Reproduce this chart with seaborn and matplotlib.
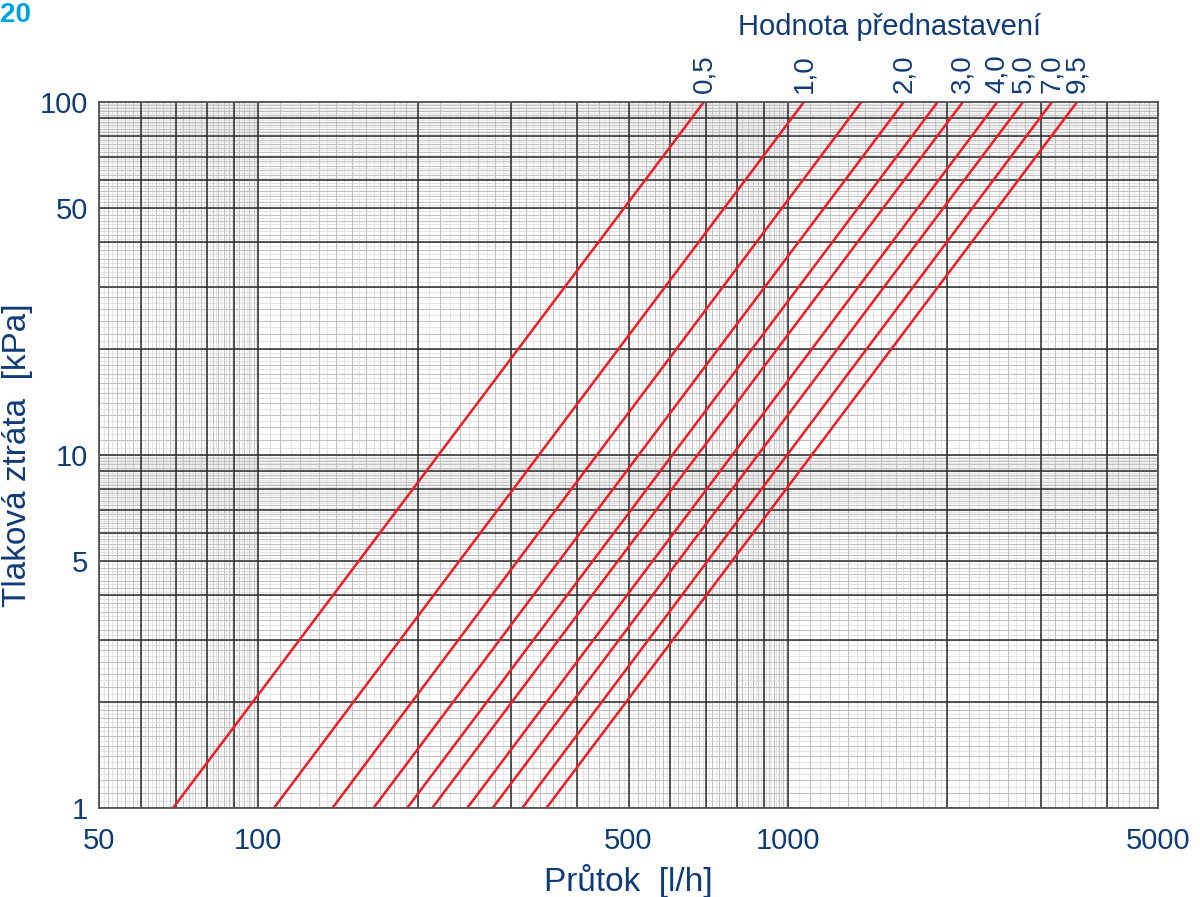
import numpy as np
import pandas as pd
import matplotlib
matplotlib.use("Agg")
import matplotlib.pyplot as plt
import matplotlib.transforms as mtransforms
from matplotlib.ticker import NullLocator
import seaborn as sns

# ---- data ----
settings = ["0,5", "1,0", "", "2,0", "", "3,0", "4,0", "5,0", "7,0", "9,5"]
flow_at_1kpa = [69, 107, 138, 165, 191, 213, 248, 277, 315, 350]          # l/h at 1 kPa
flow_at_100kpa = [694, 1072, 1377, 1655, 1918, 2140, 2486, 2780, 3153, 3516]  # l/h at 100 kPa
dp_ends = [1, 100]
x_ticks = [50, 100, 500, 1000, 5000]
x_ticklabels = ["50", "100", "500", "1000", "5000"]
y_ticks = [1, 5, 10, 50, 100]
y_ticklabels = ["1", "5", "10", "50", "100"]

NAVY = "#0f3c78"
RED = "#ee1c25"

sns.set_theme(style="white")
plt.rcParams["font.family"] = ["Liberation Sans", "DejaVu Sans"]

rows = []
for i, (q1, q2) in enumerate(zip(flow_at_1kpa, flow_at_100kpa)):
    rows.append({"line": i, "flow": q1, "dp": dp_ends[0]})
    rows.append({"line": i, "flow": q2, "dp": dp_ends[1]})
df = pd.DataFrame(rows)

fig = plt.figure(figsize=(12, 8.97), dpi=100)
ax = fig.add_axes([99 / 1200, 1 - 808 / 897, (1158 - 99) / 1200, (808 - 102) / 897])
ax.set_xscale("log")
ax.set_yscale("log")
ax.set_xlim(50, 5000)
ax.set_ylim(1, 100)


def grid_vals(lo, hi, spec):
    vals = []
    d = 1.0
    while d <= hi:
        for a, b, step in spec:
            for m in np.arange(a, b + 1e-9, step):
                v = m * d
                if lo <= v <= hi:
                    vals.append(v)
        d *= 10
    return sorted(set(np.round(vals, 6)))

light_spec = [(1, 2, 0.05), (2, 5, 0.1), (5, 10, 0.1)]
med_spec = [(1, 2, 0.1), (2, 10, 0.2)]
dark_spec = [(1, 9, 1)]

for spec, col, lw in [(light_spec, "#e4e4e4", 0.75), (med_spec, "#c2c2c6", 0.75), (dark_spec, "#2b2b2b", 1.1)]:
    for v in grid_vals(50, 5000, spec):
        ax.axvline(v, color=col, lw=lw, zorder=1)
    for v in grid_vals(1, 100, spec):
        ax.axhline(v, color=col, lw=lw, zorder=1)

sns.lineplot(data=df, x="flow", y="dp", units="line", estimator=None,
             color=RED, lw=1.8, ax=ax, zorder=3, legend=False)

for s in ax.spines.values():
    s.set_color("#555555")
    s.set_linewidth(1.3)
    s.set_zorder(4)

ax.xaxis.set_minor_locator(NullLocator())
ax.yaxis.set_minor_locator(NullLocator())
ax.set_xticks(x_ticks)
ax.set_xticklabels(x_ticklabels)
ax.set_yticks(y_ticks)
ax.set_yticklabels(y_ticklabels)
ax.tick_params(axis="both", length=0, labelsize=21, colors=NAVY)
ax.tick_params(axis="x", pad=14)
ax.tick_params(axis="y", pad=8)

ax.set_xlabel("Průtok  [l/h]", fontsize=24, color=NAVY, labelpad=6)
ax.set_ylabel("Tlaková ztráta  [kPa]", fontsize=24, color=NAVY)
ax.yaxis.set_label_coords((33 - 99) / 1059, 0.5)

trans = mtransforms.blended_transform_factory(ax.transData, ax.transAxes)
for lab, q in zip(settings, flow_at_100kpa):
    if lab:
        ax.text(q, 1.013, lab, transform=trans, rotation=90, ha="center", va="bottom",
                fontsize=20, color=NAVY)

fig.text(890 / 1200, 1 - 27 / 897, "Hodnota přednastavení", ha="center", va="center",
         fontsize=21, color=NAVY)
fig.text(0.0, 1 - 15 / 897, "20", ha="left", va="center", fontsize=20,
         fontweight="bold", color="#00a3e0")

fig.savefig("out.png", dpi=100)
